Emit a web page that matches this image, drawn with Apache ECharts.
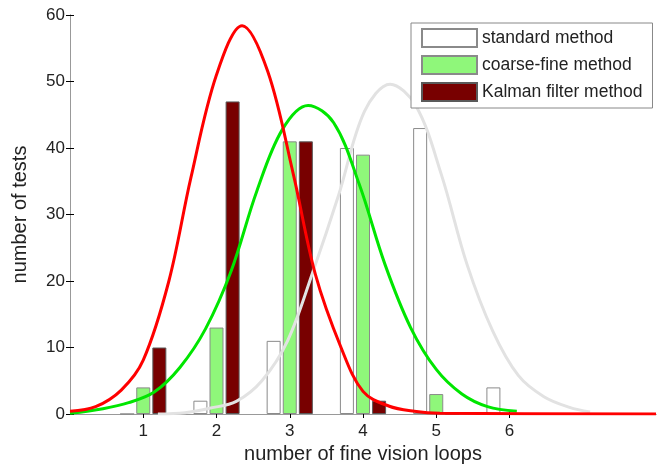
<!DOCTYPE html>
<html>
<head>
<meta charset="utf-8">
<script src="https://cdn.jsdelivr.net/npm/echarts@6/dist/echarts.min.js"></script>
<style>
  html, body { margin: 0; padding: 0; background: #fff; }
  #chart { width: 662px; height: 464px; }
</style>
</head>
<body>
<div id="chart"></div>
<script>
// bar data: tests per number of fine vision loops
var loops = [1, 2, 3, 4, 5, 6];
var standardCounts = [0, 2, 11, 40, 43, 4];
var coarseCounts = [4, 13, 41, 39, 3, 0];
var kalmanCounts = [10, 47, 41, 2, 0, 0];
var tickValues = [1, 2, 3, 4, 5, 6];

var standardCurveX = [1.2, 1.57, 1.92, 2.27, 2.62, 2.97, 3.32, 3.67, 4.02, 4.37, 4.72, 5.07, 5.42, 5.77, 6.12, 6.47, 6.82, 7.1];
var standardCurveY = [0, 0.2, 0.9, 1.9, 5, 11, 21.5, 33, 45.5, 49.6, 46.4, 36, 22.5, 12.5, 5.8, 2.6, 1, 0.3];
var coarseCurveX = [0, 0.45, 0.8, 1.15, 1.5, 1.85, 2.2, 2.55, 2.9, 3.25, 3.6, 3.95, 4.3, 4.65, 5, 5.35, 5.7, 6.1];
var coarseCurveY = [0.1, 0.8, 1.7, 3.3, 7, 12.8, 21.5, 33.5, 42.8, 46.4, 43.8, 34.5, 22.5, 13, 6.7, 3, 1.1, 0.4];
var kalmanCurveX = [0, 0.35, 0.7, 1, 1.35, 1.65, 2, 2.35, 2.7, 3.05, 3.35, 3.7, 4, 4.35, 4.7, 5.05, 8];
var kalmanCurveY = [0.4, 1.1, 3.6, 8.1, 20, 35.5, 51, 58.4, 51.5, 36, 21, 10, 3.4, 1.2, 0.4, 0.1, 0];

function pairs(xs, ys) {
  var out = [];
  for (var i = 0; i < xs.length; i++) out.push([xs[i], ys[i]]);
  return out;
}

var font = 'Liberation Sans, Arial, sans-serif';
var chart = echarts.init(document.getElementById('chart'));

var boxLine = { show: true, lineStyle: { color: '#999', width: 1 } };
var innerTick = { show: true, inside: true, length: 4, lineStyle: { color: '#000', width: 1 } };

chart.setOption({
  animation: false,
  backgroundColor: '#fff',
  grid: { left: 70, right: 6, top: 15, bottom: 50, outerBoundsMode: 'none', containLabel: false },
  legend: {
    data: [
      { name: 'standard method', icon: 'rect' },
      { name: 'coarse-fine method', icon: 'rect' },
      { name: 'Kalman filter method', icon: 'rect' }
    ],
    orient: 'vertical',
    left: 411,
    top: 23,
    itemWidth: 55,
    itemHeight: 18,
    itemGap: 7,
    padding: [5, 10, 6, 10],
    borderColor: '#888',
    borderWidth: 1,
    backgroundColor: '#fff',
    textStyle: { fontFamily: font, fontSize: 17.5, color: '#222' }
  },
  xAxis: [{
    type: 'value', min: 0, max: 8, interval: 1,
    axisLine: boxLine,
    axisTick: Object.assign({ customValues: tickValues }, innerTick),
    axisLabel: { customValues: tickValues, fontFamily: font, fontSize: 17, color: '#222', margin: 9 },
    splitLine: { show: false },
    name: 'number of fine vision loops',
    nameLocation: 'middle',
    nameGap: 30,
    nameTextStyle: { fontFamily: font, fontSize: 20, color: '#222' }
  }, {
    type: 'value', min: 0, max: 8, interval: 1, position: 'top',
    axisLine: boxLine,
    axisTick: Object.assign({ customValues: tickValues }, innerTick),
    axisLabel: { show: false },
    splitLine: { show: false }
  }],
  yAxis: [{
    type: 'value', min: 0, max: 60, interval: 10,
    axisLine: boxLine,
    axisTick: innerTick,
    axisLabel: { fontFamily: font, fontSize: 17, color: '#222', margin: 5 },
    splitLine: { show: false },
    name: 'number of tests',
    nameLocation: 'middle',
    nameGap: 40,
    nameTextStyle: { fontFamily: font, fontSize: 20, color: '#222' }
  }, {
    type: 'value', min: 0, max: 60, interval: 10, position: 'right',
    axisLine: boxLine,
    axisTick: innerTick,
    axisLabel: { show: false },
    splitLine: { show: false }
  }],
  series: [{
    name: 'standard method', type: 'bar', barWidth: 14, barGap: '15%',
    data: pairs(loops, standardCounts),
    itemStyle: { color: '#fff', borderColor: '#8a8a8a', borderWidth: 1 },
    z: 2
  }, {
    name: 'coarse-fine method', type: 'bar', barWidth: 14, barGap: '15%',
    data: pairs(loops, coarseCounts),
    itemStyle: { color: '#8ff77a', borderColor: '#8a8a8a', borderWidth: 1 },
    z: 2
  }, {
    name: 'Kalman filter method', type: 'bar', barWidth: 14, barGap: '15%',
    data: pairs(loops, kalmanCounts),
    itemStyle: { color: '#780000', borderColor: '#5a5a5a', borderWidth: 1 },
    z: 2
  }, {
    name: 'standard fit', type: 'line', smooth: 0.35, symbol: 'none', silent: true,
    data: pairs(standardCurveX, standardCurveY),
    lineStyle: { color: '#e2e2e2', width: 3 },
    z: 3
  }, {
    name: 'coarse fit', type: 'line', smooth: 0.35, symbol: 'none', silent: true,
    data: pairs(coarseCurveX, coarseCurveY),
    lineStyle: { color: '#00e600', width: 3 },
    z: 4
  }, {
    name: 'kalman fit', type: 'line', smooth: 0.35, symbol: 'none', silent: true,
    data: pairs(kalmanCurveX, kalmanCurveY),
    lineStyle: { color: '#ff0000', width: 3 },
    z: 5
  }]
});
</script>
</body>
</html>
